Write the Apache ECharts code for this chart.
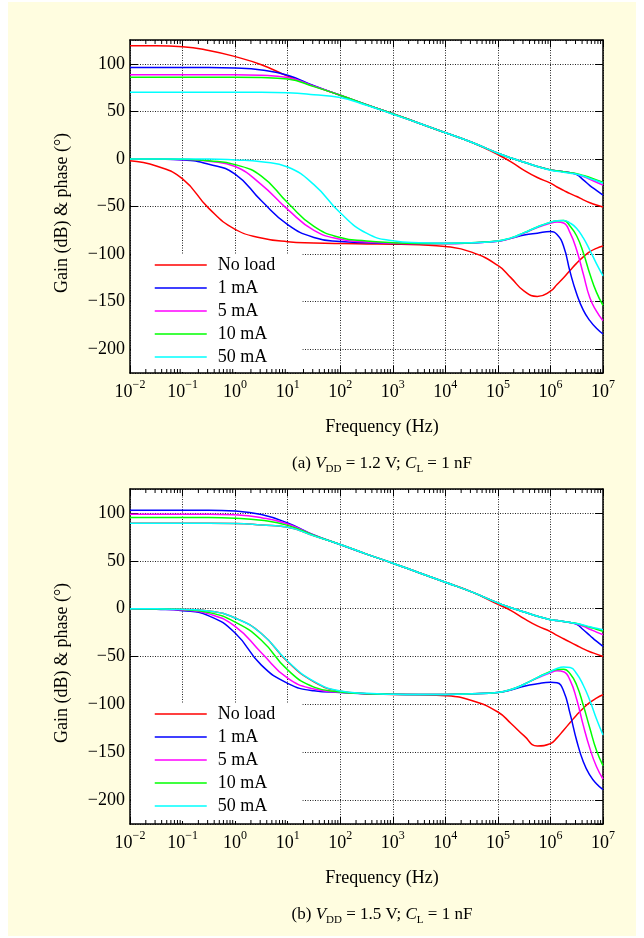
<!DOCTYPE html>
<html><head><meta charset="utf-8">
<script src="https://cdn.jsdelivr.net/npm/echarts@6/dist/echarts.min.js"></script>
<style>
html,body{margin:0;padding:0;background:#fff;}
#bg{position:absolute;left:8px;top:2px;width:628px;height:934px;background:#FFFDE0;}
#chart{position:absolute;left:0;top:0;width:644px;height:938px;}
</style></head><body><div id="bg"></div><div id="chart"></div>
<script>
// log10 of frequency (Hz) at which values were read
const logF = [-2,-1.5,-1,-0.5,0,0.5,1,1.5,2,2.5,3,3.5,4,4.5,5,5.25,5.5,5.75,6,6.125,6.25,6.375,6.5,6.625,6.75,6.875,7];
const seriesNames = ['No load','1 mA','5 mA','10 mA','50 mA'];

// Panel (a) VDD = 1.2 V
const gainA_noLoad = [119,119,118,114,107.5,99,87,76.5,67,57,47.5,37.5,27.5,17.5,4.5,-3,-12,-19.5,-25.5,-29.5,-33,-36.5,-39.5,-43,-46,-48.5,-50.5];
const gainA_1mA    = [96,96,96,96,95.5,93.5,88,77,67,57,47.5,37.5,27.5,17.5,6,1,-3.5,-8,-11.5,-12.5,-13.5,-14.5,-16.5,-22,-28,-33,-38];
const gainA_5mA    = [88.5,88.5,88.5,88.5,88.5,88,85.5,76.5,67,57,47.5,37.5,27.5,17.5,6,1,-3.5,-8,-11.5,-12.5,-13.5,-14.5,-16,-18.5,-21.5,-24.5,-27.5];
const gainA_10mA   = [85.8,85.8,85.8,85.8,85.8,85.5,84,76,67,57,47.5,37.5,27.5,17.5,6,1,-3.5,-8,-11.5,-12.5,-13.5,-14.5,-15.5,-17.5,-19.5,-22,-24.5];
const gainA_50mA   = [70,70,70,70,70,70,69.5,67.5,64.5,56.5,47,37.5,27.5,17.5,6,1,-3.5,-8,-11.8,-13,-14,-15,-16,-18,-20.5,-23,-25.5];

const phaseA_noLoad = [-2,-7.5,-21,-52,-74,-83,-87,-88.3,-89,-89.3,-89.6,-90.3,-92,-98,-112,-125,-139,-144.5,-139,-132,-125,-117,-109.5,-103,-97.5,-94,-91.5];
const phaseA_1mA    = [0,-0.3,-1,-5.5,-16,-44,-69,-82.5,-86.8,-88,-88.8,-89,-89,-88.2,-86.5,-83.5,-80,-78,-76.4,-79.5,-91.7,-119,-142,-159,-170,-178,-184];
const phaseA_5mA    = [0,0,-0.5,-2.5,-8,-27,-53,-75,-84.4,-87.3,-88.5,-89,-89,-88.2,-86.5,-83.5,-78,-72,-67.5,-66.3,-67.4,-77.8,-96,-121,-146,-160,-170];
const phaseA_10mA   = [0,0,-0.3,-2,-6,-18,-46,-71,-82.6,-86.3,-88,-88.8,-88.8,-88,-86.3,-83,-77.5,-71.5,-66.5,-65,-64.6,-70.8,-81,-98.6,-121,-140,-154];
const phaseA_50mA   = [0,0,0,0,-1,-3,-8.5,-27,-56.6,-78,-86,-88,-88.5,-88,-86.3,-83,-77.5,-71.5,-66.5,-65,-64.6,-67.4,-73,-83,-96,-110,-123];

// Panel (b) VDD = 1.5 V
const gainB_noLoad = [89.2,89.2,89.2,89.2,89,87.4,85,76,67,57,47.5,37.5,27.5,17.5,4.5,-2,-10.5,-18,-24,-28,-31.5,-35,-38.5,-42,-45,-47.5,-50];
const gainB_1mA    = [102.8,102.8,102.8,102.8,102,98.3,89.5,77,67,57,47.5,37.5,27.5,17.5,6,1,-3.5,-8,-11.5,-12.5,-13.5,-14.5,-16.5,-22,-28,-34,-39.4];
const gainB_5mA    = [98.6,98.6,98.6,98.6,98,95,88.5,76.8,67,57,47.5,37.5,27.5,17.5,6,1,-3.5,-8,-11.5,-12.5,-13.5,-14.5,-16,-18.5,-21.5,-24.5,-27.2];
const gainB_10mA   = [95.1,95.1,95.1,95.1,94.5,92.3,87,76.5,67,57,47.5,37.5,27.5,17.5,6,1,-3.5,-8,-11.5,-12.5,-13.5,-14.5,-15.5,-17.5,-19.5,-21.5,-23.7];
const gainB_50mA   = [89.2,89.2,89.2,89.2,89,87.4,85,76,67,57,47.5,37.5,27.5,17.5,6,1,-3.5,-8,-11.5,-12.5,-13.5,-14.5,-15.5,-17,-19,-20.5,-22];

const phaseB_noLoad = [0,-0.2,-0.7,-2.5,-9.8,-26,-55.5,-76.5,-86.3,-88.8,-89.6,-90,-91,-96,-108,-120,-133,-143.5,-141,-135,-127,-119,-111,-104,-98,-93.5,-90];
const phaseB_1mA    = [0,-0.7,-2.1,-7.5,-25.5,-59,-78,-85.8,-87.6,-88.8,-89.4,-89.6,-89.6,-89,-87.5,-85,-81,-78.5,-77,-77.5,-86,-110,-138,-160,-174,-183,-189];
const phaseB_5mA    = [0,-0.4,-1.4,-5.5,-18.5,-46,-72.7,-84,-87.4,-88.8,-89.4,-89.6,-89.6,-89,-87.5,-84.5,-79,-72.5,-67,-65,-66,-75,-95,-122,-146,-165,-178];
const phaseB_10mA   = [0,-0.3,-1,-4,-14,-33,-64,-82,-87,-88.8,-89.4,-89.6,-89.6,-89,-87.5,-84.5,-79,-72,-65.5,-63.5,-63.2,-68,-80,-101,-125,-148,-164];
const phaseB_50mA   = [0,-0.2,-0.7,-2.5,-9.8,-26,-55,-76,-86,-88.5,-89.4,-89.6,-89.6,-89,-87.5,-84.5,-79,-72,-66,-62.5,-61,-61.5,-68,-80,-96,-115,-132];

const panels = [
  {gains:[gainA_noLoad,gainA_1mA,gainA_5mA,gainA_10mA,gainA_50mA],
   phases:[phaseA_noLoad,phaseA_1mA,phaseA_5mA,phaseA_10mA,phaseA_50mA]},
  {gains:[gainB_noLoad,gainB_1mA,gainB_5mA,gainB_10mA,gainB_50mA],
   phases:[phaseB_noLoad,phaseB_1mA,phaseB_5mA,phaseB_10mA,phaseB_50mA]}
];

const colors = ['#FF0000','#0000FF','#FF00FF','#00FF00','#00FFFF'];
const FONT = 'Liberation Serif';
const freq = logF.map(e => Math.pow(10, e));

// minor tick positions (2..9 x 10^k) for the log axis
const minorTicks = [];
for (let k = -2; k < 7; k++) for (let m = 2; m <= 9; m++) minorTicks.push(m * Math.pow(10, k));

const gridTops = [40, 489];
const gridHeights = [333, 335];

const grids = [], xAxes = [], yAxes = [], series = [], legends = [];
const minus = s => String(s).replace('-', '\u2212');

gridTops.forEach((top, p) => {
  grids.push({left:130, top:top, width:473, height:gridHeights[p], show:true, backgroundColor:'#fff', borderWidth:0, containLabel:false});
  const axLine = {show:true, onZero:false, lineStyle:{color:'#000', width:1.5}};
  xAxes.push({type:'log', logBase:10, gridIndex:p, min:0.01, max:1e7, splitNumber:9, position:'bottom',
    axisLine:axLine, axisTick:{show:true, inside:true, length:7, lineStyle:{color:'#000'}},
    splitLine:{show:true, lineStyle:{color:'#222', type:[1,1.5], width:1}},
    axisLabel:{margin:6, formatter: v => '{b|10}{s|' + minus(Math.round(Math.log10(v))) + '}',
      rich:{b:{fontFamily:FONT, fontSize:18, color:'#000', verticalAlign:'bottom'},
            s:{fontFamily:FONT, fontSize:12, color:'#000', verticalAlign:'top', padding:[0,0,10,0]}}}});
  xAxes.push({type:'log', logBase:10, gridIndex:p, min:0.01, max:1e7, splitNumber:9, position:'top',
    axisLine:axLine, axisTick:{show:true, inside:true, length:7, lineStyle:{color:'#000'}},
    splitLine:{show:false}, axisLabel:{show:false}});
  yAxes.push({type:'value', gridIndex:p, min:-225, max:125, splitNumber:7, position:'left',
    axisLine:axLine, axisTick:{show:true, inside:true, length:8, lineStyle:{color:'#000'}},
    splitLine:{show:true, lineStyle:{color:'#222', type:[1,1.5], width:1}},
    axisLabel:{showMinLabel:false, showMaxLabel:false, margin:5, fontFamily:FONT, fontSize:18, color:'#000', formatter: v => minus(v)}});
  yAxes.push({type:'value', gridIndex:p, min:-225, max:125, splitNumber:7, position:'right',
    axisLine:axLine, axisTick:{show:true, inside:true, length:8, lineStyle:{color:'#000'}},
    splitLine:{show:false}, axisLabel:{show:false}});

  const xi = p*2, yi = p*2;
  const pan = panels[p];
  seriesNames.forEach((name, i) => {
    [pan.gains[i], pan.phases[i]].forEach(vals => {
      series.push({type:'line', name:name, xAxisIndex:xi, yAxisIndex:yi, symbol:'none', smooth:0.5,
        color:colors[i], lineStyle:{width:1.5, color:colors[i]}, z:3+i,
        data: freq.map((f, j) => [f, vals[j]])});
    });
  });
  series.push({type:'custom', xAxisIndex:xi, yAxisIndex:yi, silent:true, clip:false, z:10,
    data: minorTicks.map(f => [f, 0]),
    renderItem: (params, api) => {
      const x = api.coord([api.value(0), 0])[0];
      const cs = params.coordSys;
      return {type:'group', children:[
        {type:'line', shape:{x1:x, y1:cs.y+cs.height, x2:x, y2:cs.y+cs.height-4}, style:{stroke:'#000', lineWidth:1}},
        {type:'line', shape:{x1:x, y1:cs.y, x2:x, y2:cs.y+4}, style:{stroke:'#000', lineWidth:1}}
      ]};
    }});
  legends.push({data:seriesNames, orient:'vertical', left:131, top:top+214, padding:[2,27,6,23],
    itemWidth:52, itemHeight:14, itemGap:5, backgroundColor:'#fff', selectedMode:false,
    itemStyle:{opacity:0},
    textStyle:{fontFamily:FONT, fontSize:18, color:'#000', padding:[0,0,0,6]}, lineStyle:{width:1.5}});
});

const capRich = {
  n:{fontFamily:FONT,fontSize:17,fontWeight:'normal',color:'#000',verticalAlign:'bottom'},
  i:{fontFamily:FONT,fontSize:17,fontWeight:'normal',fontStyle:'italic',color:'#000',verticalAlign:'bottom'},
  sub:{fontFamily:FONT,fontSize:11,fontWeight:'normal',color:'#000',verticalAlign:'bottom',padding:[0,0,-3,0]}
};
const titles = [
  {text:'Frequency (Hz)', left:377, top:413, textAlign:'center', textStyle:{fontFamily:FONT, fontSize:18, fontWeight:'normal', color:'#000'}},
  {text:'{n|(a) }{i|V}{sub|DD}{n| = 1.2 V; }{i|C}{sub|L}{n| = 1 nF}', left:377, top:450, textAlign:'center',
   textStyle:{fontWeight:'normal', rich:capRich}},
  {text:'Frequency (Hz)', left:377, top:864, textAlign:'center', textStyle:{fontFamily:FONT, fontSize:18, fontWeight:'normal', color:'#000'}},
  {text:'{n|(b) }{i|V}{sub|DD}{n| = 1.5 V; }{i|C}{sub|L}{n| = 1 nF}', left:377, top:901, textAlign:'center',
   textStyle:{fontWeight:'normal', rich:capRich}}
];

const graphic = [213, 663].map(cy => ({type:'text', x:62, y:cy, rotation:Math.PI/2,
  style:{text:'Gain (dB) & phase (\u00B0)', font:'18px "Liberation Serif"', fill:'#000', align:'center', verticalAlign:'middle'}}));

const chart = echarts.init(document.getElementById('chart'), null, {renderer:'canvas'});
chart.setOption({animation:false, backgroundColor:'transparent', title:titles, legend:legends,
  grid:grids, xAxis:xAxes, yAxis:yAxes, series:series, graphic:graphic});
</script></body></html>
